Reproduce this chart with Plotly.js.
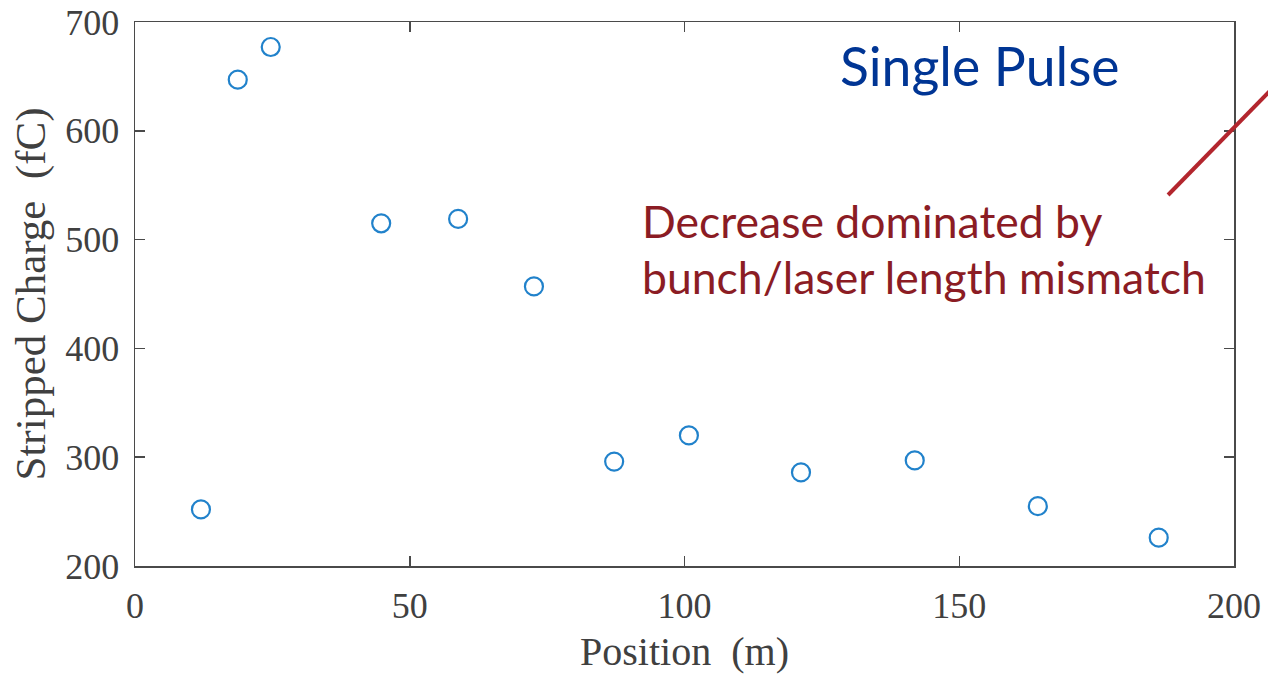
<!DOCTYPE html>
<html>
<head>
<meta charset="utf-8">
<script src="https://cdn.plot.ly/plotly-3.0.1.min.js"></script>
<style>html,body{margin:0;padding:0;background:#fff;}#chart{width:1268px;height:674px;}</style>
</head>
<body>
<div id="chart"></div>
<script>
// Data
const positionM = [12.0, 18.7, 24.7, 44.8, 58.8, 72.6, 87.2, 100.8, 121.2, 141.9, 164.3, 186.3];
const strippedChargeFC = [252, 647, 677, 515, 519, 457, 296, 320, 286, 297, 255, 226];
const xTicks = [0, 50, 100, 150, 200];
const yTicks = [200, 300, 400, 500, 600, 700];

const serif = "'Liberation Serif', 'Times New Roman', serif";
const axisCommon = {
  showline: true, linecolor: '#4a4a4a', linewidth: 1.5, mirror: 'ticks',
  ticks: 'inside', ticklen: 10, tickwidth: 1.5, tickcolor: '#4a4a4a',
  showgrid: false, zeroline: false,
  tickfont: {family: serif, size: 36, color: '#404040'}
};

const trace = {
  x: positionM, y: strippedChargeFC, type: 'scatter', mode: 'markers',
  marker: {symbol: 'circle-open', size: 18, color: '#2182cb', line: {width: 2.2, color: '#2182cb'}},
  cliponaxis: false, hoverinfo: 'none'
};

const layout = {
  width: 1268, height: 674,
  margin: {l: 135, r: 34, t: 22, b: 108},
  paper_bgcolor: '#fff', plot_bgcolor: '#fff',
  showlegend: false,
  xaxis: Object.assign({}, axisCommon, {
    range: [0, 200], tickvals: xTicks, ticktext: xTicks.map(String),
    ticklabelstandoff: 7,
    title: {text: 'Position&nbsp;&nbsp;(m)', font: {family: serif, size: 40, color: '#404040'}, standoff: 13}
  }),
  yaxis: Object.assign({}, axisCommon, {
    range: [200, 700], tickvals: yTicks, ticktext: yTicks.map(String),
    ticklabelstandoff: 7,
    title: {text: 'Stripped Charge&nbsp;&nbsp;(fC)', font: {family: serif, size: 43, color: '#404040'}, standoff: 6}
  }),
  annotations: [
    {xref: 'paper', yref: 'paper', x: 0.6397, y: 0.921, xanchor: 'left', yanchor: 'middle',
     text: 'Single Pulse', showarrow: false,
     font: {family: 'Lato, sans-serif', size: 53.5, color: '#003594'}},
    {xref: 'paper', yref: 'paper', x: 0.4595, y: 0.636, xanchor: 'left', yanchor: 'middle',
     text: 'Decrease dominated by', showarrow: false,
     font: {family: 'Lato, sans-serif', size: 44.5, color: '#8b1c24'}},
    {xref: 'paper', yref: 'paper', x: 0.4595, y: 0.532, xanchor: 'left', yanchor: 'middle',
     text: 'bunch/laser length mismatch', showarrow: false,
     font: {family: 'Lato, sans-serif', size: 44.5, color: '#8b1c24'}}
  ],
  shapes: [
    {type: 'line', xref: 'paper', yref: 'paper', x0: 0.9400, y0: 0.682, x1: 1.051, y1: 0.911,
     line: {color: '#b3262e', width: 4}}
  ]
};

Plotly.newPlot('chart', [trace], layout, {staticPlot: true, displayModeBar: false});
</script>
</body>
</html>
